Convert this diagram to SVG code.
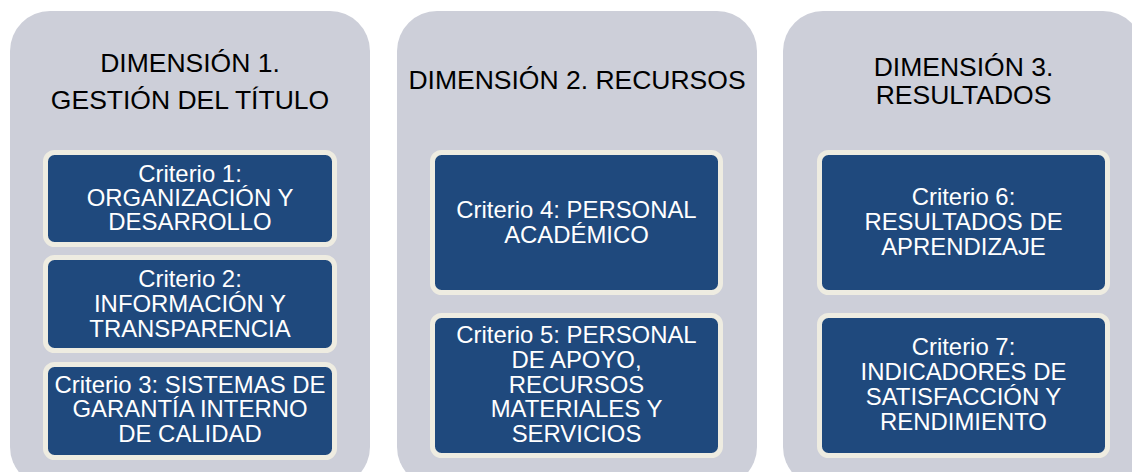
<svg xmlns="http://www.w3.org/2000/svg" width="1132" height="472" viewBox="0 0 1132 472">
<style>
.panel{fill:#CDCFD9;}
.box{fill:#1F497D;stroke:#EEECE1;stroke-width:5;}
.title{font-family:"Liberation Sans",Arial,sans-serif;font-size:26.5px;fill:#000;text-anchor:middle;}
.crit{font-family:"Liberation Sans",Arial,sans-serif;font-size:23.9px;fill:#fff;text-anchor:middle;}
</style>
<rect width="1132" height="472" fill="#fff"/>
<g id="dim1">
<rect class="panel" x="10" y="11" width="360" height="476" rx="40"/>
<text class="title" x="190" y="71.7">DIMENSIÓN 1.</text>
<text class="title" x="190" y="109">GESTIÓN DEL TÍTULO</text>
</g>
<g id="dim2">
<rect class="panel" x="397" y="11" width="360" height="476" rx="40"/>
<text class="title" x="577" y="89.3">DIMENSIÓN 2. RECURSOS</text>
</g>
<g id="dim3">
<rect class="panel" x="783" y="11" width="360" height="476" rx="40"/>
<text class="title" x="963.5" y="76">DIMENSIÓN 3.</text>
<text class="title" x="963.5" y="104">RESULTADOS</text>
</g>
<g id="c1">
<rect class="box" x="45.5" y="152.5" width="289" height="92" rx="9"/>
<text class="crit" x="190" y="181.7">Criterio 1:</text>
<text class="crit" x="190" y="205.7">ORGANIZACIÓN Y</text>
<text class="crit" x="190" y="230">DESARROLLO</text>
</g>
<g id="c2">
<rect class="box" x="45.5" y="257.5" width="289" height="93" rx="9"/>
<text class="crit" x="190" y="286.7">Criterio 2:</text>
<text class="crit" x="190" y="311.7">INFORMACIÓN Y</text>
<text class="crit" x="190" y="336.7">TRANSPARENCIA</text>
</g>
<g id="c3">
<rect class="box" x="45.5" y="364.5" width="289" height="93" rx="9"/>
<text class="crit" x="190" y="392.7">Criterio 3: SISTEMAS DE</text>
<text class="crit" x="190" y="417.3">GARANTÍA INTERNO</text>
<text class="crit" x="190" y="442.3">DE CALIDAD</text>
</g>
<g id="c4">
<rect class="box" x="432.5" y="152.5" width="288" height="140" rx="9"/>
<text class="crit" x="576.5" y="218.3">Criterio 4: PERSONAL</text>
<text class="crit" x="576.5" y="242.7">ACADÉMICO</text>
</g>
<g id="c5">
<rect class="box" x="432.5" y="315.5" width="288" height="140" rx="9"/>
<text class="crit" x="576.5" y="343.3">Criterio 5: PERSONAL</text>
<text class="crit" x="576.5" y="368.3">DE APOYO,</text>
<text class="crit" x="576.5" y="392.7">RECURSOS</text>
<text class="crit" x="576.5" y="417.3">MATERIALES Y</text>
<text class="crit" x="576.5" y="442.3">SERVICIOS</text>
</g>
<g id="c6">
<rect class="box" x="819.5" y="152.5" width="288" height="140" rx="9"/>
<text class="crit" x="963.5" y="205">Criterio 6:</text>
<text class="crit" x="963.5" y="230">RESULTADOS DE</text>
<text class="crit" x="963.5" y="255">APRENDIZAJE</text>
</g>
<g id="c7">
<rect class="box" x="819.5" y="315.5" width="288" height="140" rx="9"/>
<text class="crit" x="963.5" y="355">Criterio 7:</text>
<text class="crit" x="963.5" y="380">INDICADORES DE</text>
<text class="crit" x="963.5" y="405">SATISFACCIÓN Y</text>
<text class="crit" x="963.5" y="430">RENDIMIENTO</text>
</g>
<g id="connectors"></g>
</svg>
